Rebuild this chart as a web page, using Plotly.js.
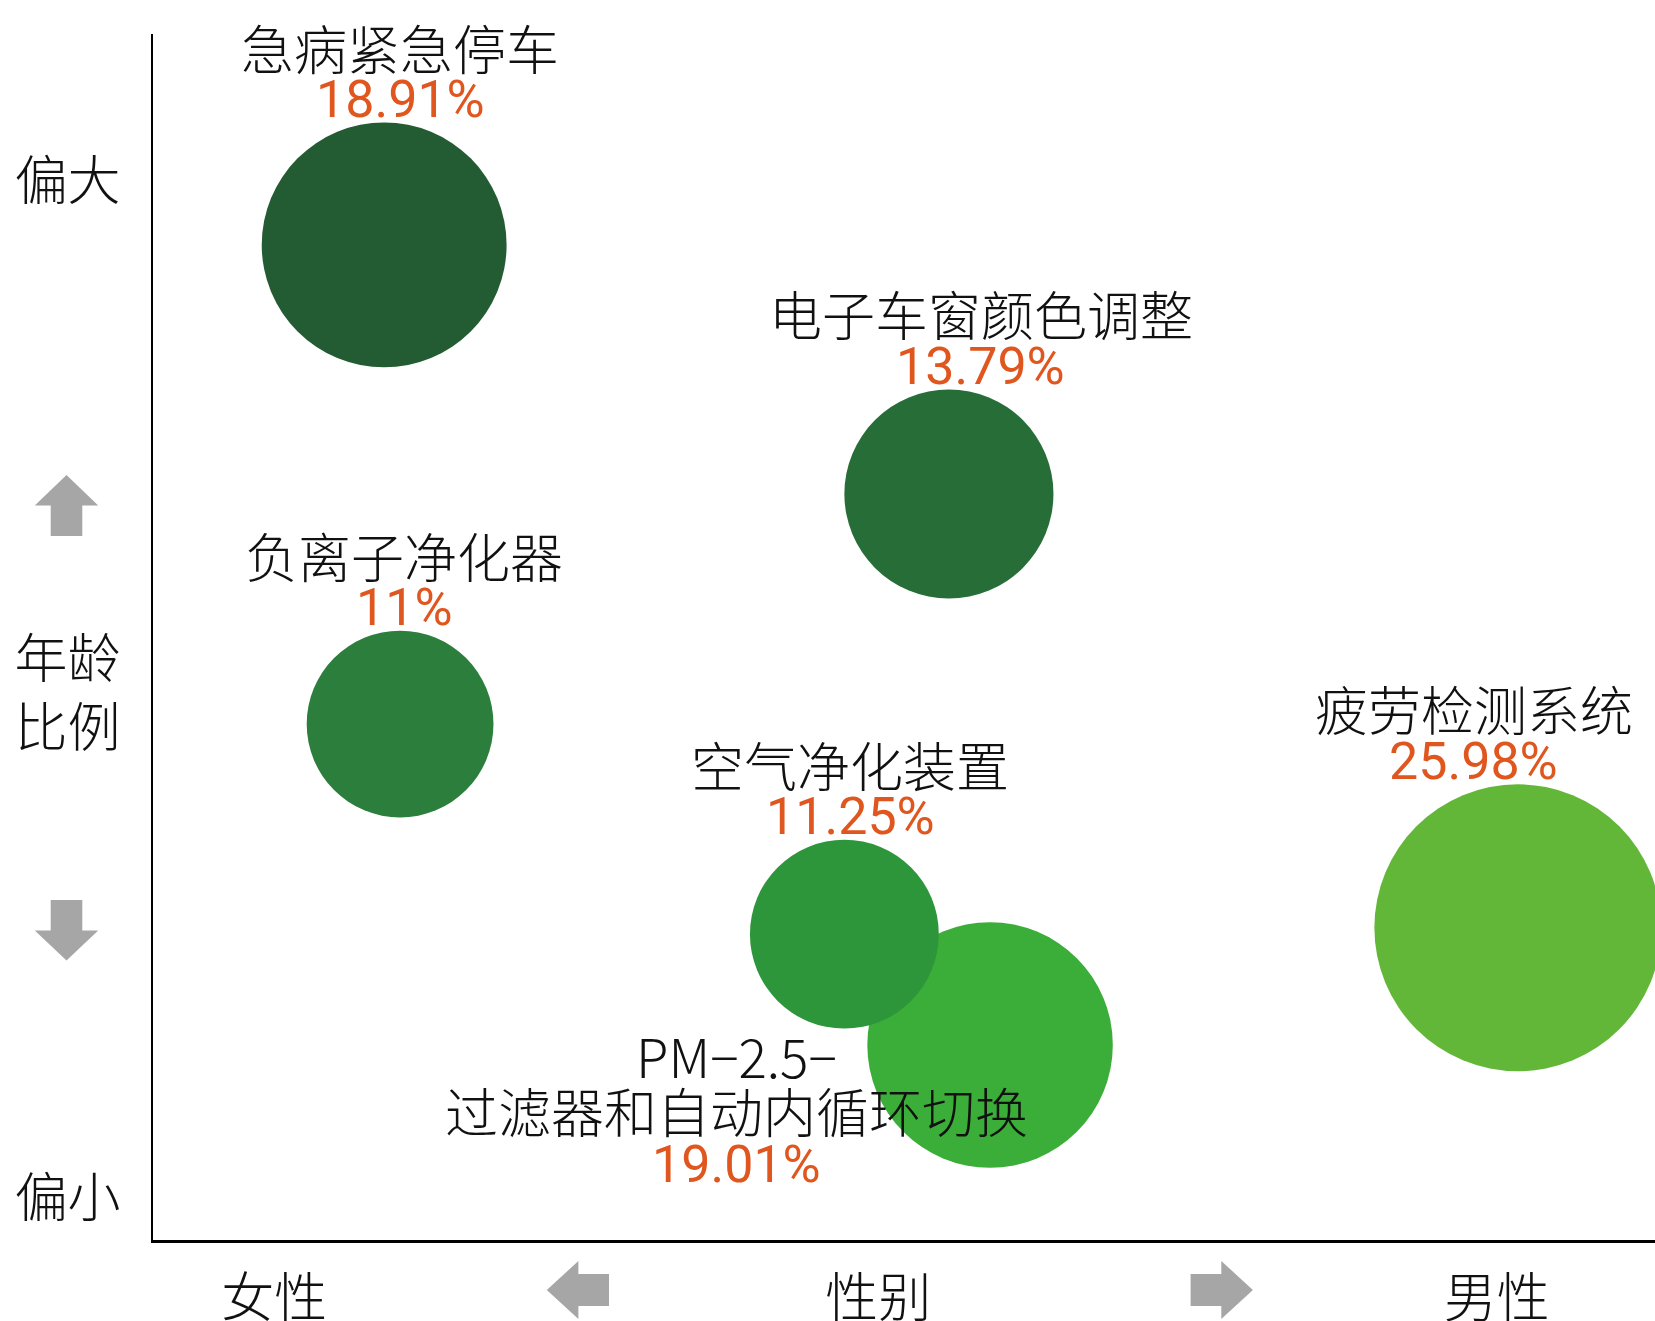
<!DOCTYPE html>
<html><head><meta charset="utf-8">
<script src="https://cdn.plot.ly/plotly-3.0.1.min.js"></script>
<style>html,body{margin:0;padding:0;background:#fff;overflow:hidden}#chart{width:1655px;height:1321px}</style>
</head><body><div id="chart"></div>
<script>
// ---- data ----
const features = ["急病紧急停车", "电子车窗颜色调整", "负离子净化器", "PM−2.5−\n过滤器和自动内循环切换", "空气净化装置", "疲劳检测系统"];
const percentages = [18.91, 13.79, 11, 19.01, 11.25, 25.98];
const percentText = ["18.91%", "13.79%", "11%", "19.01%", "11.25%", "25.98%"];
const genderScore = [15.39, 52.99, 16.45, 55.73, 46.03, 90.87];   // 0 = 女性, 100 = 男性
const ageScore = [82.51, 61.86, 42.78, 16.17, 25.36, 25.89];      // 0 = 偏小, 100 = 偏大
const xTickVals = [8.08, 48.28, 89.46];
const xTickText = ["女性", "性别", "男性"];
const yTickVals = [87.77, 45.31, 3.48];
const yTickText = ["偏大", "年龄<br>比例", "偏小"];

// ---- styles ----
const bubbleColors = ["#235b32", "#266d37", "#2c7e3c", "#3aae38", "#2e963a", "#62b739"];
const labelOffsets = [{dx:16}, {dx:32}, {dx:4}, {dx:-254, below:10.5}, {dx:6}, {dx:-44}];
const W = 1655, H = 1321;
const M = {l:153, r:0, t:34, b:81};
const PW = W - M.l - M.r, PH = H - M.t - M.b;
const areaRef = 0.0003154;           // px-diameter^2 per percent point
const cjk = '"Noto Sans CJK SC", "Noto Sans", sans-serif';
const numFont = 'Roboto, "Noto Sans", sans-serif';
const nameFont = {family: cjk, size: 53, color: '#111', weight: 300};
const pctFont = {family: numFont, size: 52, color: '#e0561f'};

const trace = {
  type: 'scatter', mode: 'markers',
  x: genderScore, y: ageScore,
  marker: {size: percentages, sizemode: 'area', sizeref: 2 * areaRef, color: bubbleColors, opacity: 1, line: {width: 0}},
  hoverinfo: 'skip'
};

const annotations = [];
features.forEach((f, i) => {
  const r = Math.sqrt(percentages[i] / areaRef) / 2;
  const lines = f.split("\n");
  const off = labelOffsets[i];
  const base = {x: genderScore[i], y: ageScore[i], xref: 'x', yref: 'y', showarrow: false,
                xanchor: 'center', yanchor: 'middle', xshift: off.dx};
  if (off.below !== undefined) {
    lines.forEach((ln, k) => annotations.push(Object.assign({}, base, {text: ln, font: nameFont, yshift: -(off.below + 55 * k)})));
    annotations.push(Object.assign({}, base, {text: percentText[i], font: pctFont, yshift: -(off.below + 55 * lines.length - 1)}));
  } else {
    const n = lines.length;
    lines.forEach((ln, k) => annotations.push(Object.assign({}, base, {text: ln, font: nameFont, yshift: r + 76 + 55 * (n - 1 - k)})));
    annotations.push(Object.assign({}, base, {text: percentText[i], font: pctFont, yshift: r + 23}));
  }
});

// decorative arrows (pixel geometry -> paper coords)
const px = v => (v - M.l) / PW;
const py = v => (M.t + PH - v) / PH;
function pathFrom(pts) { return 'M' + pts.map(p => px(p[0]).toFixed(5) + ',' + py(p[1]).toFixed(5)).join(' L') + ' Z'; }
const arrowColor = '#a6a6a6';
const arrows = [
  [[66.5,475],[98.2,505.5],[82.3,505.5],[82.3,536],[50.7,536],[50.7,505.5],[34.8,505.5]],
  [[50.7,900],[82.3,900],[82.3,930.5],[98.2,930.5],[66.5,960.5],[34.8,930.5],[50.7,930.5]],
  [[546.8,1290],[578.4,1261],[578.4,1274],[609,1274],[609,1306],[578.4,1306],[578.4,1319]],
  [[1252.9,1290],[1221.3,1261],[1221.3,1274],[1190.6,1274],[1190.6,1306],[1221.3,1306],[1221.3,1319]]
];
const shapes = arrows.map(a => ({type: 'path', xref: 'paper', yref: 'paper', path: pathFrom(a),
  fillcolor: arrowColor, line: {width: 0}, layer: 'above'}));

const layout = {
  width: W, height: H,
  margin: {l: M.l, r: M.r, t: M.t, b: M.b, pad: 0},
  paper_bgcolor: '#fff', plot_bgcolor: '#fff',
  showlegend: false, hovermode: false,
  xaxis: {range: [0, 100], showline: true, linecolor: '#000', linewidth: 3, showgrid: false, zeroline: false,
          tickvals: xTickVals, ticktext: xTickText, ticks: '', tickfont: {family: cjk, size: 53, color: '#111', weight: 300},
          ticklabelstandoff: 10, fixedrange: true},
  yaxis: {range: [0, 100], showline: true, linecolor: '#000', linewidth: 2, showgrid: false, zeroline: false,
          tickvals: yTickVals, ticktext: yTickText, ticks: '', tickfont: {family: cjk, size: 53, color: '#111', weight: 300},
          ticklabelstandoff: 20, fixedrange: true},
  annotations: annotations,
  shapes: shapes
};
Plotly.newPlot('chart', [trace], layout, {staticPlot: true, displayModeBar: false});
</script></body></html>
